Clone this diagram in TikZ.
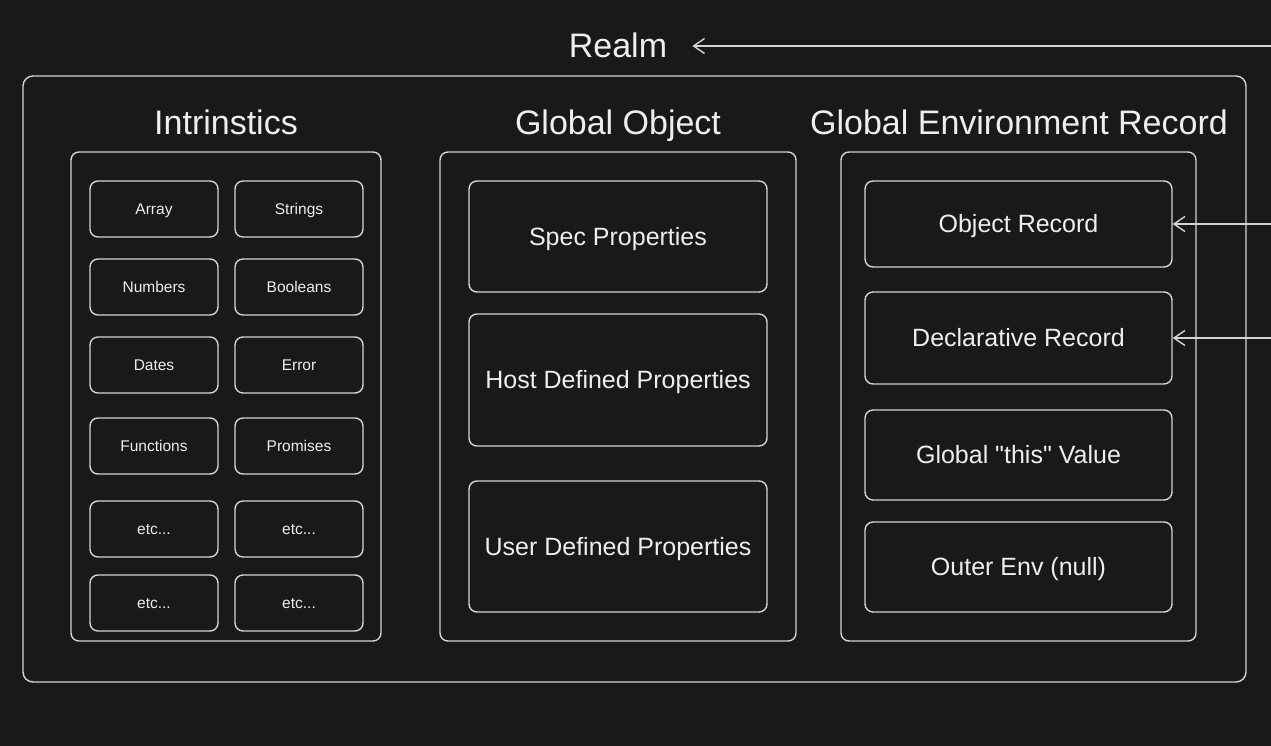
\documentclass[tikz,border=0pt]{standalone}
\usepackage{fontspec}
\setmainfont{Liberation Sans}[Ligatures=TeXOff]
\usetikzlibrary{arrows.meta}
\definecolor{bg}{HTML}{191919}
\definecolor{ink}{HTML}{D4D4D4}
\definecolor{txt}{HTML}{EEEEEE}
\begin{document}
\begin{tikzpicture}[x=1pt,y=-1pt,
  % text is centred on its cap height (0.716 of the font size), so descenders do not shift lines
  capcentre/.style={text height=#1, text depth=0pt},
  box/.style={draw=ink, line width=1.4pt, rounded corners=8pt, inner sep=0pt, text=txt, align=center},
  panel/.style={box, minimum width=#1, minimum height=489pt},
  smallbox/.style={box, minimum width=128pt, minimum height=56pt, capcentre=11.1pt, font=\fontsize{15.5}{18}\selectfont},
  gobox/.style={box, minimum width=298pt, minimum height=#1, capcentre=17.9pt, font=\fontsize{25}{30}\selectfont},
  envbox/.style={box, minimum width=307pt, minimum height=#1, capcentre=17.9pt, font=\fontsize{25}{30}\selectfont},
  title/.style={text=txt, inner sep=0pt, capcentre=24.3pt, font=\fontsize{34}{40}\selectfont},
  arr/.style={draw=ink, line width=1.4pt, -{Straight Barb[length=11pt,width=15pt,line width=1.4pt]}}
]
\useasboundingbox[fill=bg] (0,0) rectangle (1271,746);

% realm frame and heading
\node[box, rounded corners=10pt, minimum width=1223pt, minimum height=606pt] (realmbox) at (634.5,379) {};
\node[title] (realm) at (618,45) {Realm};

% column headings
\node[title] (tintr) at (226,122) {Intrinstics};
\node[title] (tglob) at (618,122) {Global Object};
\node[title] (tenv)  at (1019,122) {Global Environment Record};

% panels
\node[panel=310pt] (intr) at (226,396.5) {};
\node[panel=356pt] (glob) at (618,396.5) {};
\node[panel=355pt] (env)  at (1018.5,396.5) {};

% intrinsics grid
\node[smallbox] (array)    at (154,209) {Array};
\node[smallbox] (strings)  at (299,209) {Strings};
\node[smallbox] (numbers)  at (154,287) {Numbers};
\node[smallbox] (booleans) at (299,287) {Booleans};
\node[smallbox] (dates)    at (154,365) {Dates};
\node[smallbox] (error)    at (299,365) {Error};
\node[smallbox] (funcs)    at (154,446) {Functions};
\node[smallbox] (promises) at (299,446) {Promises};
\node[smallbox] (etca)     at (154,529) {etc...};
\node[smallbox] (etcb)     at (299,529) {etc...};
\node[smallbox] (etcc)     at (154,603) {etc...};
\node[smallbox] (etcd)     at (299,603) {etc...};

% global object properties
\node[gobox=111pt] (spec) at (618,236.5) {Spec Properties};
\node[gobox=132pt] (host) at (618,380)   {Host Defined Properties};
\node[gobox=131pt] (user) at (618,546.5) {User Defined Properties};

% global environment record parts
\node[envbox=86pt] (objrec)  at (1018.5,224) {Object Record};
\node[envbox=92pt] (declrec) at (1018.5,338) {Declarative Record};
\node[envbox=90pt] (thisval) at (1018.5,455) {Global "this" Value};
\node[envbox=90pt] (outer)   at (1018.5,567) {Outer Env (null)};

% incoming references
\coordinate (srcrealm) at (1275,46);
\coordinate (srcobj)   at (1275,224);
\coordinate (srcdecl)  at (1275,338);
\draw[arr, shorten >=25pt] (srcrealm) -- (realm.east |- srcrealm);
\draw[arr] (srcobj) -- (objrec.east);
\draw[arr] (srcdecl) -- (declrec.east);
\end{tikzpicture}
\end{document}
